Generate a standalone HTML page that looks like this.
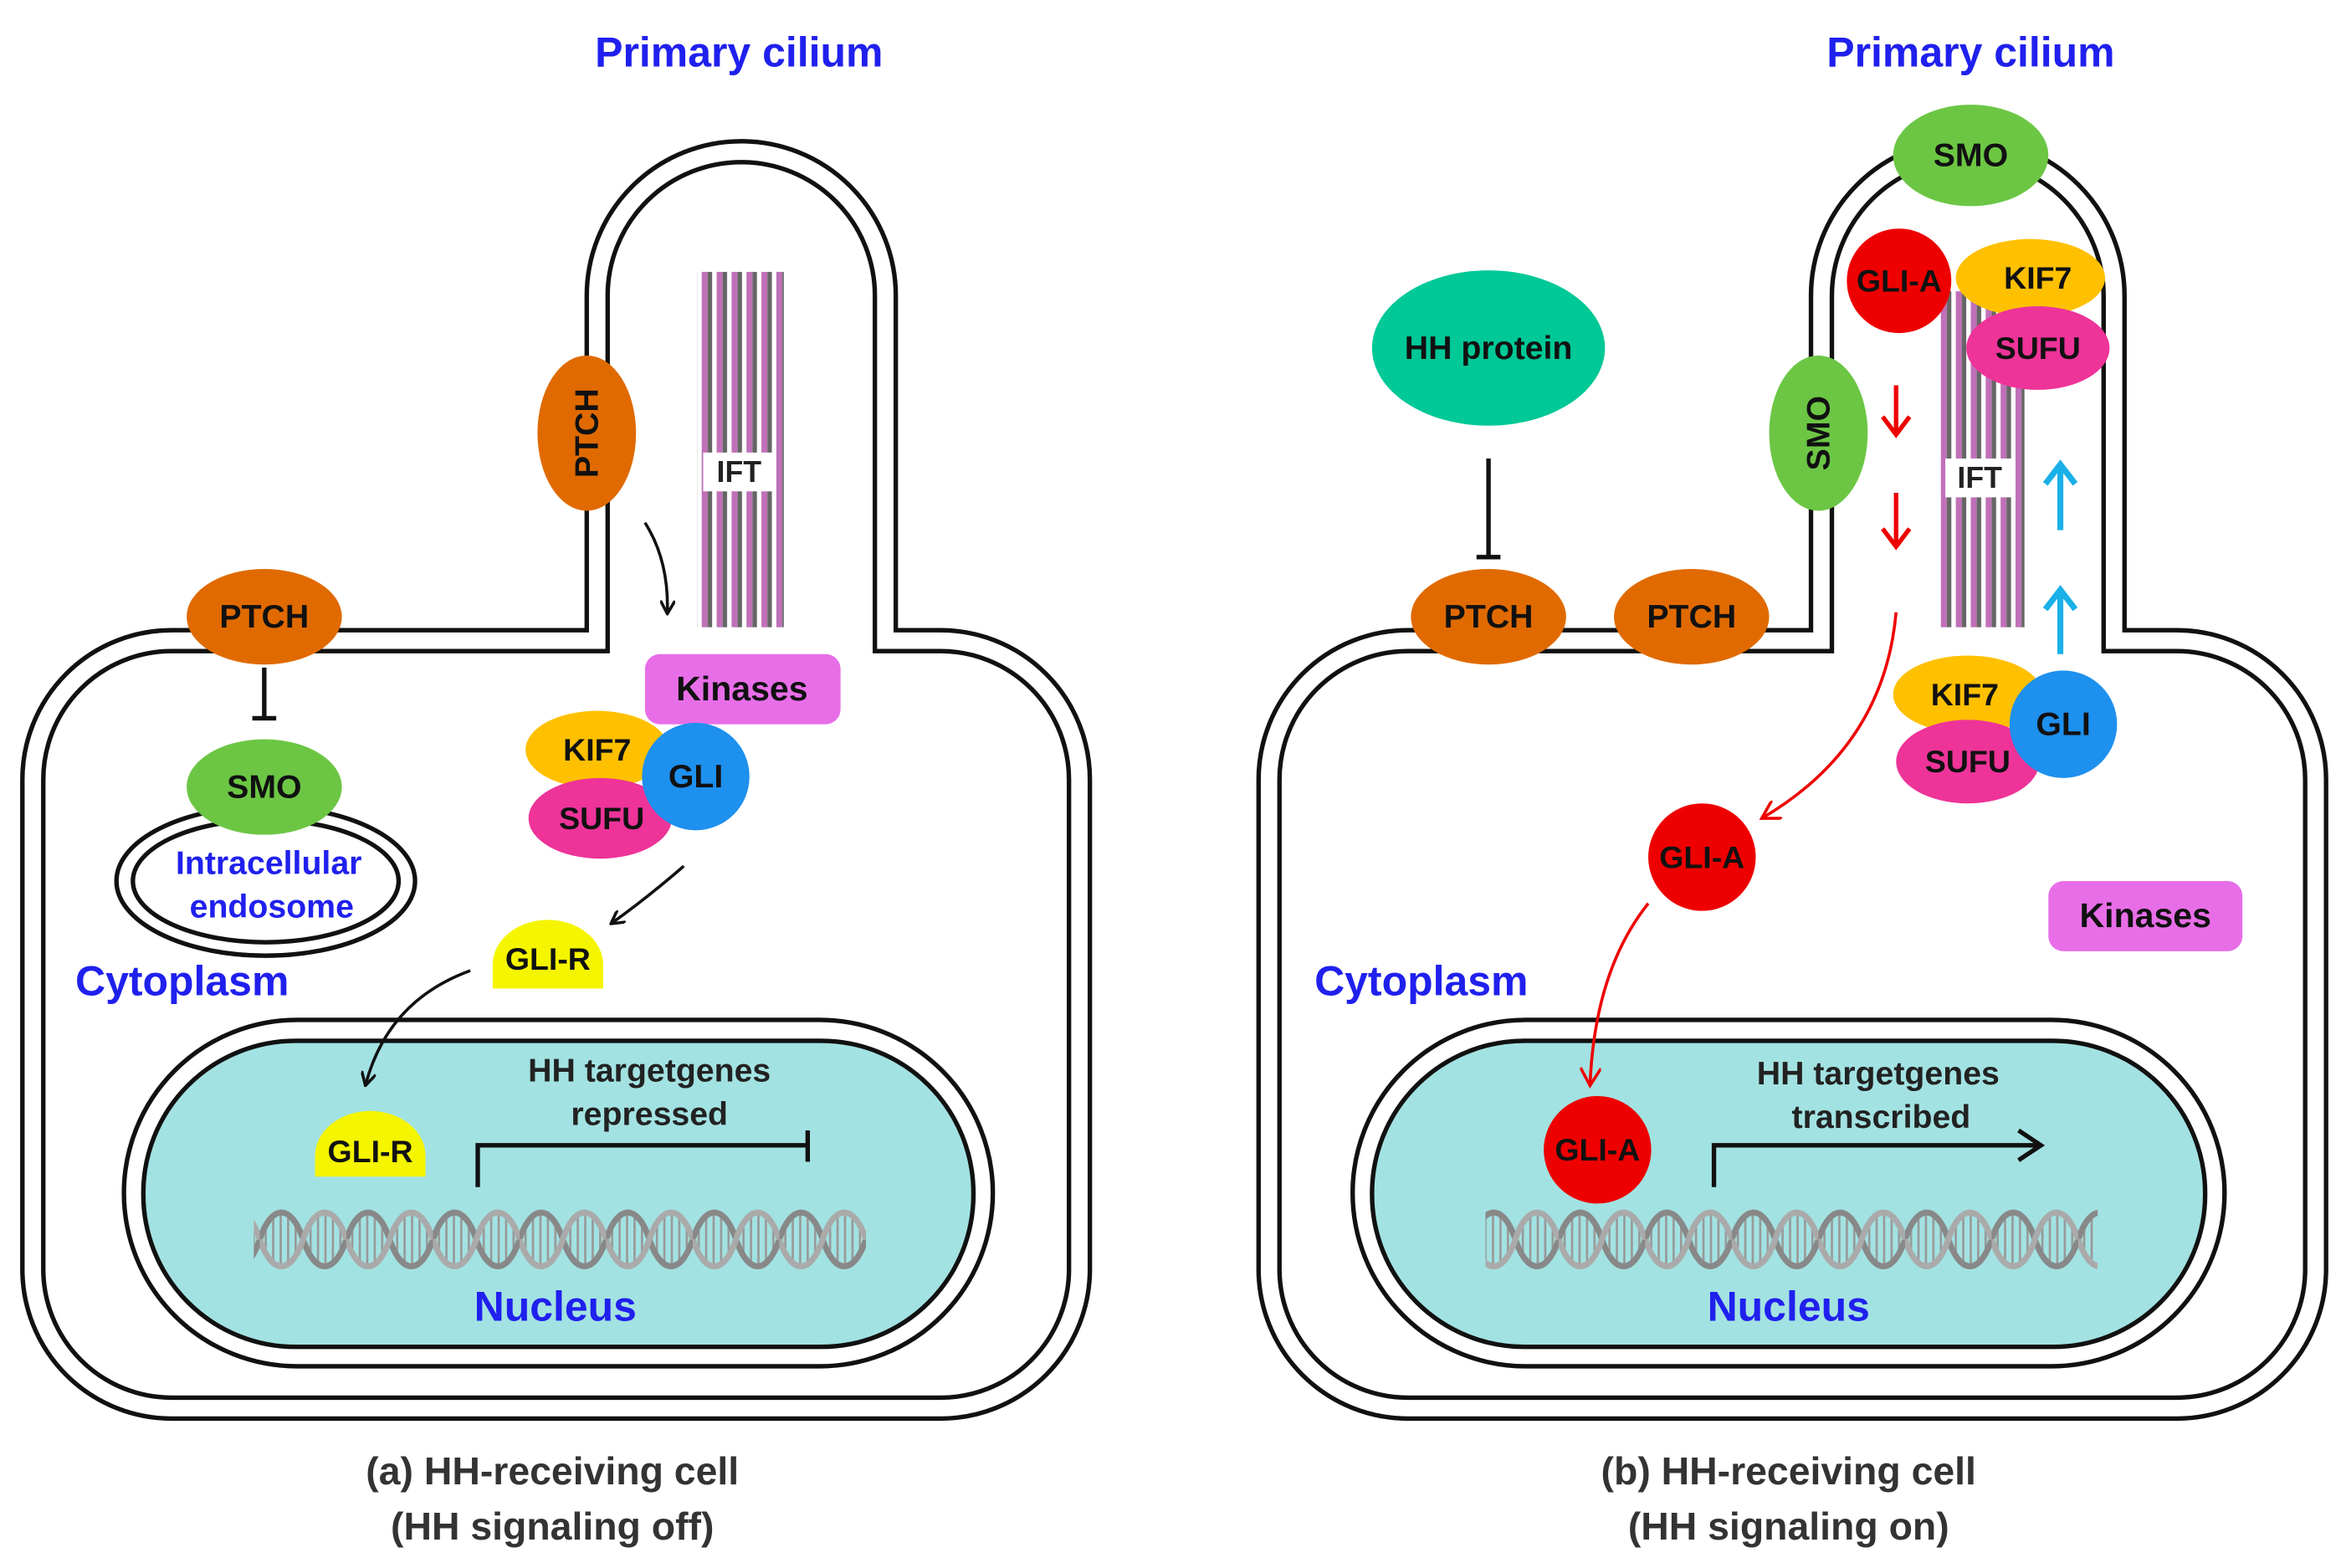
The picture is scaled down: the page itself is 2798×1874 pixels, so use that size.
<!DOCTYPE html>
<html><head><meta charset="utf-8">
<style>html,body{margin:0;padding:0;background:#fff}svg{display:block}
text{font-family:"Liberation Sans",sans-serif;font-weight:bold;text-anchor:middle;dominant-baseline:central}</style></head>
<body>
<svg width="2798" height="1874" viewBox="0 0 1568 1050" xmlns="http://www.w3.org/2000/svg">
<defs>
<pattern id="dna" x="0" y="805" width="58" height="50" patternUnits="userSpaceOnUse">
<g stroke="#999" stroke-width="1.5">
<line x1="4" y1="14" x2="4" y2="36"/><line x1="9" y1="8" x2="9" y2="42"/><line x1="14" y1="6" x2="14" y2="44"/><line x1="19" y1="8" x2="19" y2="42"/><line x1="24" y1="14" x2="24" y2="36"/>
<line x1="34" y1="14" x2="34" y2="36"/><line x1="39" y1="8" x2="39" y2="42"/><line x1="44" y1="6" x2="44" y2="44"/><line x1="49" y1="8" x2="49" y2="42"/><line x1="54" y1="14" x2="54" y2="36"/>
</g>
<path d="M0 25 C8 1 21 1 29 25 C37 49 50 49 58 25" fill="none" stroke="#888" stroke-width="4"/>
<path d="M0 25 C8 49 21 49 29 25 C37 1 50 1 58 25" fill="none" stroke="#aaa" stroke-width="4"/>
</pattern>
<pattern id="ift" x="0" y="0" width="10" height="10" patternUnits="userSpaceOnUse">
<rect width="10" height="10" fill="#fff"/><rect x="0" width="4" height="10" fill="#c070b8"/><rect x="4" width="3" height="10" fill="#666"/>
</pattern>
<marker id="ab" markerWidth="10" markerHeight="10" refX="8" refY="5" orient="auto" markerUnits="userSpaceOnUse"><path d="M0 0 L9 5 L0 10" fill="none" stroke="#111" stroke-width="2"/></marker>
<marker id="ar" markerWidth="14" markerHeight="14" refX="12" refY="7" orient="auto" markerUnits="userSpaceOnUse"><path d="M0 0 L12 7 L0 14" fill="none" stroke="#e00" stroke-width="2"/></marker>
</defs>

<!-- LEFT CELL -->
<g fill="none" stroke="#111" stroke-width="3">
<path d="M393 422 L393 198 A103.5 103.5 0 0 1 600 198 L600 422 L630 422 A100 100 0 0 1 730 522 L730 850 A100 100 0 0 1 630 950 L115 950 A100 100 0 0 1 15 850 L15 522 A100 100 0 0 1 115 422 Z"/>
<path d="M407 436 L407 198 A89.5 89.5 0 0 1 586 198 L586 436 L630 436 A86 86 0 0 1 716 522 L716 850 A86 86 0 0 1 630 936 L115 936 A86 86 0 0 1 29 850 L29 522 A86 86 0 0 1 115 436 Z"/>
<rect x="83" y="683" width="582" height="232" rx="116" fill="#fff"/>
<rect x="96" y="697" width="556" height="205" rx="102" fill="#a3e2e2"/>
</g>
<rect x="170" y="805" width="410" height="50" fill="url(#dna)"/>
<rect x="467" y="182" width="58" height="238" fill="url(#ift)"/>
<rect x="471" y="303" width="48" height="26" fill="#fff"/><text x="495" y="316" font-size="20" fill="#222">IFT</text>
<ellipse cx="393" cy="290" rx="33" ry="52" fill="#e06a00"/>
<text x="0" y="0" font-size="22" fill="#111" transform="translate(393,290) rotate(-90)">PTCH</text>
<path d="M432 350 Q448 375 447 410" fill="none" stroke="#111" stroke-width="2" marker-end="url(#ab)"/>
<ellipse cx="178" cy="590" rx="100" ry="50" fill="none" stroke="#111" stroke-width="3"/>
<ellipse cx="178" cy="590" rx="89" ry="41" fill="none" stroke="#111" stroke-width="3"/>
<ellipse cx="177" cy="413" rx="52" ry="32" fill="#e06a00"/><text x="177" y="413" font-size="22" fill="#111">PTCH</text>
<path d="M177 447 L177 480 M169 481 L185 481" stroke="#111" stroke-width="3"/>
<ellipse cx="177" cy="527" rx="52" ry="32" fill="#6cc644"/><text x="177" y="527" font-size="22" fill="#111">SMO</text>
<text x="180" y="578" font-size="22" fill="#2020ee">Intracellular</text>
<text x="182" y="607" font-size="22" fill="#2020ee">endosome</text>
<text x="122" y="657" font-size="28" fill="#2020ee">Cytoplasm</text>
<rect x="432" y="438" width="131" height="47" rx="10" fill="#e86ee8"/><text x="497" y="461" font-size="23" fill="#111">Kinases</text>
<ellipse cx="400" cy="502" rx="48" ry="26" fill="#ffc000"/><text x="400" y="502" font-size="21" fill="#111">KIF7</text>
<ellipse cx="402" cy="548" rx="48" ry="27" fill="#ee3399"/><text x="403" y="548" font-size="21" fill="#111">SUFU</text>
<circle cx="466" cy="520" r="36" fill="#1e90ee"/><text x="466" y="520" font-size="22" fill="#111">GLI</text>
<path d="M458 580 Q435 600 410 618" fill="none" stroke="#111" stroke-width="2" marker-end="url(#ab)"/>
<path d="M330 662 L330 646 A37 30 0 0 1 404 646 L404 662 Z" fill="#f5f500"/><text x="367" y="642" font-size="21" fill="#111">GLI-R</text>
<path d="M315 650 Q260 670 245 726" fill="none" stroke="#111" stroke-width="2" marker-end="url(#ab)"/>
<path d="M211 788 L211 774 A37 30 0 0 1 285 774 L285 788 Z" fill="#f5f500"/><text x="248" y="771" font-size="21" fill="#111">GLI-R</text>
<text x="435" y="717" font-size="22" fill="#222">HH targetgenes</text>
<text x="435" y="746" font-size="22" fill="#222">repressed</text>
<path d="M320 795 L320 767 L541 767 M541 757 L541 778" fill="none" stroke="#111" stroke-width="3"/>
<text x="372" y="875" font-size="28" fill="#2020ee">Nucleus</text>
<text x="495" y="35" font-size="28" fill="#2020ee">Primary cilium</text>
<text x="370" y="985" font-size="26" fill="#333">(a) HH-receiving cell</text>
<text x="370" y="1022" font-size="26" fill="#333">(HH signaling off)</text>

<!-- RIGHT CELL -->
<g fill="none" stroke="#111" stroke-width="3">
<path d="M1213 422 L1213 198 A105 105 0 0 1 1423 198 L1423 422 L1458 422 A100 100 0 0 1 1558 522 L1558 850 A100 100 0 0 1 1458 950 L943 950 A100 100 0 0 1 843 850 L843 522 A100 100 0 0 1 943 422 Z"/>
<path d="M1227 436 L1227 198 A91 91 0 0 1 1409 198 L1409 436 L1458 436 A86 86 0 0 1 1544 522 L1544 850 A86 86 0 0 1 1458 936 L943 936 A86 86 0 0 1 857 850 L857 522 A86 86 0 0 1 943 436 Z"/>
<rect x="906" y="683" width="584" height="232" rx="116" fill="#fff"/>
<rect x="919" y="697" width="558" height="205" rx="102" fill="#a3e2e2"/>
</g>
<rect x="995" y="805" width="410" height="50" fill="url(#dna)"/>
<rect x="1298" y="195" width="58" height="225" fill="url(#ift)"/>
<rect x="1303" y="307" width="46" height="26" fill="#fff"/><text x="1326" y="320" font-size="20" fill="#222">IFT</text>
<ellipse cx="997" cy="233" rx="78" ry="52" fill="#00c896"/><text x="997" y="233" font-size="22" fill="#111">HH protein</text>
<path d="M997 307 L997 372 M989 373 L1005 373" stroke="#111" stroke-width="3"/>
<ellipse cx="997" cy="413" rx="52" ry="32" fill="#e06a00"/><text x="997" y="413" font-size="22" fill="#111">PTCH</text>
<ellipse cx="1133" cy="413" rx="52" ry="32" fill="#e06a00"/><text x="1133" y="413" font-size="22" fill="#111">PTCH</text>
<ellipse cx="1320" cy="104" rx="52" ry="34" fill="#6cc644"/><text x="1320" y="104" font-size="22" fill="#111">SMO</text>
<ellipse cx="1218" cy="290" rx="33" ry="52" fill="#6cc644"/>
<text x="0" y="0" font-size="22" fill="#111" transform="translate(1218,290) rotate(-90)">SMO</text>
<ellipse cx="1360" cy="186" rx="50" ry="26" fill="#ffc000"/><text x="1365" y="186" font-size="21" fill="#111">KIF7</text>
<ellipse cx="1365" cy="233" rx="48" ry="28" fill="#ee3399"/><text x="1365" y="233" font-size="21" fill="#111">SUFU</text>
<circle cx="1272" cy="188" r="35" fill="#ee0000"/><text x="1272" y="188" font-size="21" fill="#111">GLI-A</text>
<g stroke="#e00" stroke-width="3" fill="none">
<path d="M1270 258 L1270 290 M1261 279 L1270 291 L1279 279"/>
<path d="M1270 330 L1270 365 M1261 354 L1270 366 L1279 354"/>
</g>
<g stroke="#1ab0e8" stroke-width="4" fill="none">
<path d="M1380 355 L1380 312 M1370 324 L1380 311 L1390 324"/>
<path d="M1380 438 L1380 396 M1370 408 L1380 395 L1390 408"/>
</g>
<ellipse cx="1318" cy="465" rx="50" ry="26" fill="#ffc000"/><text x="1316" y="465" font-size="21" fill="#111">KIF7</text>
<ellipse cx="1318" cy="510" rx="48" ry="28" fill="#ee3399"/><text x="1318" y="510" font-size="21" fill="#111">SUFU</text>
<circle cx="1382" cy="485" r="36" fill="#1e90ee"/><text x="1382" y="485" font-size="22" fill="#111">GLI</text>
<path d="M1270 410 Q1262 500 1180 548" fill="none" stroke="#e00" stroke-width="2" marker-end="url(#ar)"/>
<circle cx="1140" cy="574" r="36" fill="#ee0000"/><text x="1140" y="574" font-size="21" fill="#111">GLI-A</text>
<path d="M1104 605 Q1068 650 1065 727" fill="none" stroke="#e00" stroke-width="2" marker-end="url(#ar)"/>
<circle cx="1070" cy="770" r="36" fill="#ee0000"/><text x="1070" y="770" font-size="21" fill="#111">GLI-A</text>
<rect x="1372" y="590" width="130" height="47" rx="10" fill="#e86ee8"/><text x="1437" y="613" font-size="23" fill="#111">Kinases</text>
<text x="952" y="657" font-size="28" fill="#2020ee">Cytoplasm</text>
<text x="1258" y="719" font-size="22" fill="#222">HH targetgenes</text>
<text x="1260" y="748" font-size="22" fill="#222">transcribed</text>
<path d="M1148 795 L1148 767 L1366 767 M1352 757 L1367 767 L1352 777" fill="none" stroke="#111" stroke-width="3"/>
<text x="1198" y="875" font-size="28" fill="#2020ee">Nucleus</text>
<text x="1320" y="35" font-size="28" fill="#2020ee">Primary cilium</text>
<text x="1198" y="985" font-size="26" fill="#333">(b) HH-receiving cell</text>
<text x="1198" y="1022" font-size="26" fill="#333">(HH signaling on)</text>
</svg>
</body></html>
